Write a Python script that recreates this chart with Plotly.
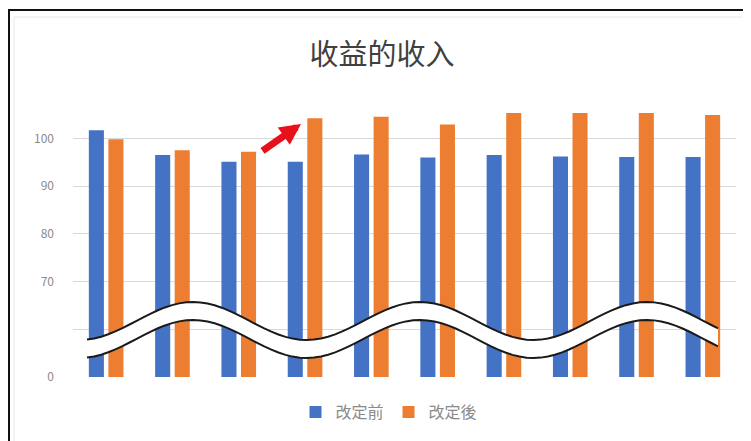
import numpy as np
import plotly.graph_objects as go

# ---- data ----
categories = ["1", "2", "3", "4", "5", "6", "7", "8", "9", "10"]
before_values = [101.7, 96.5, 95.1, 95.1, 96.6, 96.0, 96.5, 96.2, 96.1, 96.1]
after_values = [99.8, 97.5, 97.2, 104.2, 104.5, 102.9, 106.0, 106.0, 106.0, 104.9]
series_names = ["改定前", "改定後"]
title_text = "收益的收入"
tick_values = [50, 60, 70, 80, 90, 100]
tick_labels = ["0", "", "70", "80", "90", "100"]

BLUE = "#4472C4"
ORANGE = "#ED7D31"
FONT = "Noto Sans CJK SC"

OFF = 8  # page body margin
W, H = 751 - OFF, 441 - OFF
# plot area in screen pixels: x 73..736, y 113..377.5
L, R, T, B = 73 - OFF, 751 - 736, 113 - OFF, 441 - 377
PW, PH = W - L - R, H - T - B


def px_to_paper(px, py):
    # screen pixel -> paper fraction
    return (px - OFF - L) / PW, (H - B - (py - OFF)) / PH


fig = go.Figure()
fig.add_trace(go.Bar(x=categories, y=before_values, name=series_names[0],
                     marker=dict(color=BLUE, line=dict(width=0))))
fig.add_trace(go.Bar(x=categories, y=after_values, name=series_names[1],
                     marker=dict(color=ORANGE, line=dict(width=0))))

shapes = []
# outer frame
x0, y0 = px_to_paper(9, 10)
x1, y1 = px_to_paper(749.5, 470)
shapes.append(dict(type="rect", xref="paper", yref="paper", x0=x0, x1=x1, y0=y1, y1=y0,
                   line=dict(color="#111111", width=2), layer="above"))
x0, y0 = px_to_paper(14, 17)
x1, y1 = px_to_paper(745, 470)
shapes.append(dict(type="rect", xref="paper", yref="paper", x0=x0, x1=x1, y0=y1, y1=y0,
                   line=dict(color="#E8E8E8", width=1), layer="below"))

# broken-axis wave decoration (pixel geometry)
xs = np.linspace(87, 718, 90)
center = 330 - 19 * np.cos(2 * np.pi * (xs - 193) / 227)
half = 9
top = [px_to_paper(a, b - half) for a, b in zip(xs, center)]
bot = [px_to_paper(a, b + half) for a, b in zip(xs, center)]


def path_of(pts, close=False):
    s = "M " + " L ".join(f"{p[0]:.5f},{p[1]:.5f}" for p in pts)
    return s + (" Z" if close else "")


shapes.append(dict(type="path", xref="paper", yref="paper",
                   path=path_of(top + bot[::-1], close=True),
                   fillcolor="white", line=dict(width=0), layer="above"))
shapes.append(dict(type="path", xref="paper", yref="paper", path=path_of(top),
                   line=dict(color="#1a1a1a", width=2), layer="above"))
shapes.append(dict(type="path", xref="paper", yref="paper", path=path_of(bot),
                   line=dict(color="#1a1a1a", width=2), layer="above"))

hx, hy = px_to_paper(301, 124)
lx, ly = px_to_paper(389, 412)

fig.update_layout(
    width=W, height=H,
    margin=dict(l=L, r=R, t=T, b=B, autoexpand=False),
    paper_bgcolor="white", plot_bgcolor="white",
    font=dict(family=FONT, color="#595959", size=12),
    title=dict(text=title_text, xref="container", x=(382 - OFF) / W, xanchor="center",
               yref="container", y=1 - (55 - OFF) / H, yanchor="middle",
               font=dict(family=FONT, size=29, color="#404040")),
    barmode="group", bargap=0.41, bargroupgap=0.23,
    showlegend=True,
    legend=dict(orientation="h", x=lx, xanchor="center", y=ly,
                yanchor="middle", font=dict(size=16, color="#8a8a8a"),
                itemwidth=30, traceorder="normal"),
    xaxis=dict(showticklabels=False, showgrid=False, zeroline=False, showline=False,
               ticks=""),
    yaxis=dict(range=[50, 105.3], tickvals=tick_values, ticktext=tick_labels,
               showgrid=True, gridcolor="#D9D9D9", gridwidth=1, zeroline=False,
               showline=False, ticks="", ticklabelstandoff=18,
               tickfont=dict(size=12, color="#8a8a8a")),
    shapes=shapes,
    annotations=[dict(xref="paper", yref="paper", x=hx, y=hy, ax=-40, ay=28,
                      showarrow=True, arrowhead=2, arrowsize=0.6, arrowwidth=7,
                      arrowcolor="#E8101A", text="")],
)

fig.write_html("out.html")
